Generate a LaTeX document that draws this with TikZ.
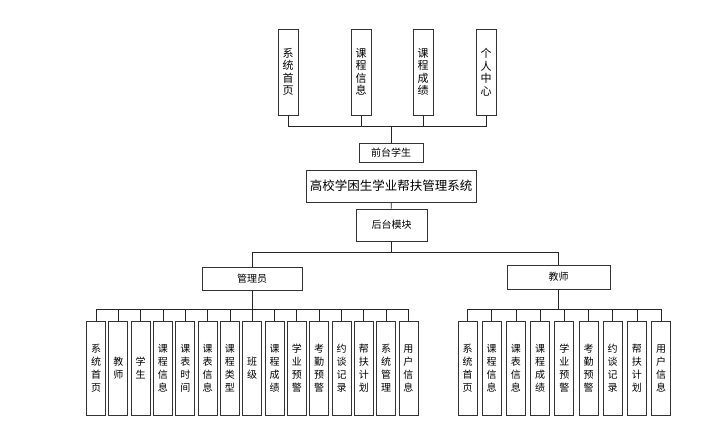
\documentclass[tikz,border=0pt]{standalone}
\usepackage{fontspec}
\setmainfont{Noto Sans CJK SC}
\tikzset{>=stealth}
\tikzset{
  box/.style={draw=black!80, line width=0.9pt, fill=white, inner sep=0pt, align=center},
  topbox/.style={box, minimum width=20pt, minimum height=86pt, font=\fontsize{11}{12.5}\selectfont},
  vbox/.style={box, minimum width=19pt, minimum height=94pt, font=\fontsize{10}{13}\selectfont},
  link/.style={draw=black!85, line width=0.8pt}
}

\begin{document}
\begin{tikzpicture}[x=1pt, y=-1pt]
    \useasboundingbox (0,0) rectangle (707,421);
    % front end
    \node[topbox] (t1) at (288,72) {系\\统\\首\\页};
    \node[topbox] (t2) at (361,72) {课\\程\\信\\息};
    \node[topbox] (t3) at (423,72) {课\\程\\成\\绩};
    \node[topbox] (t4) at (486,72) {个\\人\\中\\心};
    \node[box, minimum width=64pt, minimum height=19pt, font=\fontsize{10}{12}\selectfont] (fs) at (391,152.5) {前台学生};
    \node[box, minimum width=170pt, minimum height=32pt, font=\fontsize{12.5}{14}\selectfont] (sys) at (391,186) {高校学困生学业帮扶管理系统};
    \node[box, minimum width=71pt, minimum height=32pt, font=\fontsize{10}{12}\selectfont] (bk) at (391.5,225) {后台模块};
    \node[box, minimum width=100pt, minimum height=23pt, font=\fontsize{10}{12}\selectfont] (adm) at (252,278.5) {管理员};
    \node[box, minimum width=103pt, minimum height=24pt, font=\fontsize{10}{12}\selectfont] (tch) at (558.5,277) {教师};
    \foreach \i in {1,...,4}
        \draw[link] (fs.north) -- ++(0,-16) -| (t\i.south);
    \draw[link] (sys) -- (bk);
    \draw[link] (bk.south) -- ++(0,11) -| (adm.north);
    \draw[link] (bk.south) -- ++(0,11) -| (tch.north);
    % admin modules
    \foreach \txt [count=\i] in {{系\\统\\首\\页}, {教\\师}, {学\\生}, {课\\程\\信\\息},
        {课\\表\\时\\间}, {课\\表\\信\\息}, {课\\程\\类\\型}, {班\\级}, {课\\程\\成\\绩},
        {学\\业\\预\\警}, {考\\勤\\预\\警}, {约\\谈\\记\\录}, {帮\\扶\\计\\划},
        {系\\统\\管\\理}, {用\\户\\信\\息}}
    {
        \node[vbox] (a\i) at ({96+22.32*(\i-1)},368) {\txt};
        \draw[link] (adm.south) -- ++(0,19) -| (a\i.north);
    }
    % teacher modules
    \foreach \txt [count=\i] in {{系\\统\\首\\页}, {课\\程\\信\\息}, {课\\表\\信\\息},
        {课\\程\\成\\绩}, {学\\业\\预\\警}, {考\\勤\\预\\警}, {约\\谈\\记\\录},
        {帮\\扶\\计\\划}, {用\\户\\信\\息}}
    {
        \node[vbox] (b\i) at ({467.5+24.2*(\i-1)},368) {\txt};
        \draw[link] (tch.south) -- ++(0,20) -| (b\i.north);
    }
\end{tikzpicture}
\end{document}
